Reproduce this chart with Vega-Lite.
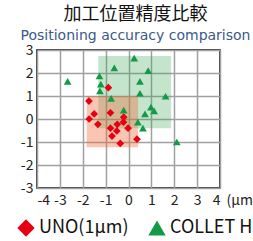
{
  "$schema": "https://vega.github.io/schema/vega-lite/v6.json",
  "autosize": "none",
  "width": 183,
  "height": 138,
  "padding": {"left": 37, "top": 50, "right": 33, "bottom": 53},
  "background": "white",
  "title": {
    "text": "加工位置精度比較",
    "subtitle": "Positioning accuracy comparison",
    "anchor": "middle",
    "dx": 7,
    "offset": 0,
    "font": "Noto Sans CJK JP",
    "fontSize": 18,
    "fontWeight": "normal",
    "color": "#111111",
    "subtitleFont": "DejaVu Sans",
    "subtitleFontSize": 14,
    "subtitleColor": "#3a5a8a",
    "subtitlePadding": 5
  },
  "config": {
    "view": {"stroke": "black", "strokeWidth": 1.5},
    "axis": {
      "labelFont": "Noto Sans CJK JP",
      "labelFontSize": 14,
      "labelColor": "#222222",
      "labelOverlap": false,
      "gridColor": "#a0a0a0",
      "gridWidth": 1.5,
      "gridOpacity": 1,
      "domain": false,
      "ticks": false
    }
  },
  "datasets": {
    "boxes": [
      {"series": "COLLET HOLDER", "x0": -1.32, "x1": 1.86, "y0": -0.4, "y1": 2.74},
      {"series": "UNO(1μm)", "x0": -1.83, "x1": 0.42, "y0": -1.23, "y1": 1.0}
    ],
    "pts": [
      {"series": "UNO(1μm)", "x": -1.73, "y": 0.78},
      {"series": "UNO(1μm)", "x": -0.88, "y": 1.36},
      {"series": "UNO(1μm)", "x": -1.5, "y": 0.22},
      {"series": "UNO(1μm)", "x": -1.72, "y": 0.0},
      {"series": "UNO(1μm)", "x": -1.34, "y": -0.23},
      {"series": "UNO(1μm)", "x": -0.79, "y": 0.27},
      {"series": "UNO(1μm)", "x": -0.79, "y": -0.4},
      {"series": "UNO(1μm)", "x": -0.72, "y": -0.74},
      {"series": "UNO(1μm)", "x": -0.49, "y": -0.23},
      {"series": "UNO(1μm)", "x": -0.51, "y": -0.52},
      {"series": "UNO(1μm)", "x": -0.36, "y": -1.06},
      {"series": "UNO(1μm)", "x": -0.21, "y": 0.08},
      {"series": "UNO(1μm)", "x": -0.22, "y": -0.14},
      {"series": "UNO(1μm)", "x": -0.02, "y": -0.4},
      {"series": "UNO(1μm)", "x": 0.37, "y": -0.88},
      {"series": "COLLET HOLDER", "x": -2.66, "y": 1.64},
      {"series": "COLLET HOLDER", "x": -1.27, "y": 1.87},
      {"series": "COLLET HOLDER", "x": -1.21, "y": 1.52},
      {"series": "COLLET HOLDER", "x": -1.25, "y": 1.22},
      {"series": "COLLET HOLDER", "x": -0.62, "y": 2.22},
      {"series": "COLLET HOLDER", "x": -0.76, "y": 0.9},
      {"series": "COLLET HOLDER", "x": -0.21, "y": 0.39},
      {"series": "COLLET HOLDER", "x": 0.25, "y": 2.65},
      {"series": "COLLET HOLDER", "x": 0.86, "y": 2.1},
      {"series": "COLLET HOLDER", "x": 0.5, "y": 1.64},
      {"series": "COLLET HOLDER", "x": 0.5, "y": 1.12},
      {"series": "COLLET HOLDER", "x": 1.62, "y": 0.99},
      {"series": "COLLET HOLDER", "x": 0.98, "y": 0.52},
      {"series": "COLLET HOLDER", "x": 1.12, "y": 0.35},
      {"series": "COLLET HOLDER", "x": 0.72, "y": 0.22},
      {"series": "COLLET HOLDER", "x": 0.41, "y": -0.14},
      {"series": "COLLET HOLDER", "x": 0.63, "y": -0.4},
      {"series": "COLLET HOLDER", "x": 2.11, "y": -1.0}
    ]
  },
  "layer": [
    {
      "data": {"name": "boxes"},
      "transform": [{"filter": "datum.series === 'COLLET HOLDER'"}],
      "mark": {"type": "rect", "color": "#3aa655", "opacity": 0.3},
      "encoding": {
        "x": {"field": "x0", "type": "quantitative", "scale": {"domain": [-4, 4], "nice": false},
          "axis": {"values": [-4, -3, -2, -1, 0, 1, 2, 3, 4], "tickCount": 20, "labelExpr": "toString(datum.value)", "labelOverlap": false, "labelPadding": 5, "title": "(μm)", "titleFont": "Noto Sans CJK JP", "titleFontSize": 14, "titleFontWeight": "normal", "titleColor": "#222222", "titleX": 189, "titleY": 5, "titleAlign": "left", "titleBaseline": "top"}},
        "x2": {"field": "x1"},
        "y": {"field": "y0", "type": "quantitative", "scale": {"domain": [-3, 3], "nice": false},
          "axis": {"values": [-3, -2, -1, 0, 1, 2, 3], "tickCount": 20, "labelExpr": "toString(datum.value)", "labelOverlap": false, "labelPadding": 4, "title": null}},
        "y2": {"field": "y1"}
      }
    },
    {
      "data": {"name": "boxes"},
      "transform": [{"filter": "datum.series === 'UNO(1μm)'"}],
      "mark": {"type": "rect", "color": "#ee6a3a", "opacity": 0.38},
      "encoding": {
        "x": {"field": "x0", "type": "quantitative"},
        "x2": {"field": "x1"},
        "y": {"field": "y0", "type": "quantitative"},
        "y2": {"field": "y1"}
      }
    },
    {
      "mark": {"type": "rule", "color": "black", "strokeWidth": 1.5},
      "encoding": {"x": {"datum": 0, "type": "quantitative"}}
    },
    {
      "mark": {"type": "rule", "color": "black", "strokeWidth": 1.5},
      "encoding": {"y": {"datum": 0, "type": "quantitative"}}
    },
    {
      "data": {"name": "pts"},
      "mark": {"type": "point", "filled": true, "opacity": 1, "size": 60},
      "encoding": {
        "x": {"field": "x", "type": "quantitative"},
        "y": {"field": "y", "type": "quantitative"},
        "color": {"field": "series", "type": "nominal", "scale": {"domain": ["UNO(1μm)", "COLLET HOLDER"], "range": ["#e60012", "#129a46"]},
          "legend": {"orient": "none", "legendX": -20, "legendY": 169, "direction": "horizontal", "title": null, "symbolSize": 300, "labelFont": "Noto Sans CJK JP", "labelFontSize": 18, "labelColor": "#111111", "labelOffset": 4, "columnPadding": 19, "symbolStrokeWidth": 0}},
        "shape": {"field": "series", "type": "nominal", "scale": {"domain": ["UNO(1μm)", "COLLET HOLDER"], "range": ["diamond", "triangle-up"]}}
      }
    }
  ]
}
